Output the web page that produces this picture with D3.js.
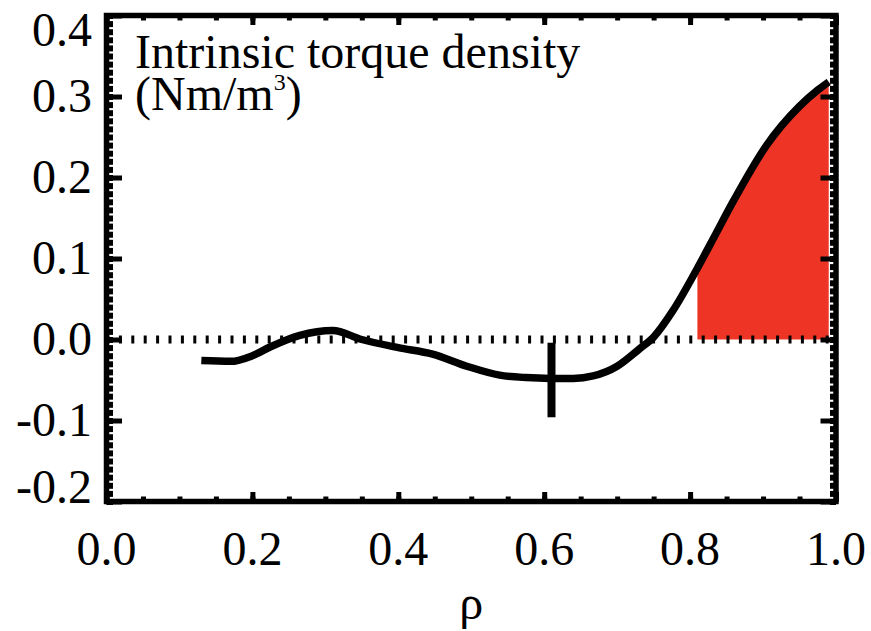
<!DOCTYPE html>
<html>
<head>
<meta charset="utf-8">
<script src="https://cdn.jsdelivr.net/npm/d3@7"></script>
<style>
  body { margin: 0; background: #fff; }
  svg { display: block; }
  text { font-family: "Liberation Serif", "Times New Roman", Times, serif; fill: #000; }
</style>
</head>
<body>
<div id="io"></div>
<script>
// torque density profile
const rhoVals = [0.13, 0.17, 0.20, 0.225, 0.265, 0.31, 0.35, 0.40, 0.447, 0.494, 0.539, 0.575, 0.608, 0.64, 0.667, 0.70, 0.73, 0.75, 0.776, 0.81, 0.835, 0.86, 0.905, 0.95, 0.975, 0.99];
const torqueVals = [-0.026, -0.027, -0.020, -0.009, 0.005, 0.011, 0.000, -0.010, -0.018, -0.033, -0.044, -0.047, -0.048, -0.048, -0.045, -0.033, -0.012, 0.003, 0.035, 0.088, 0.13, 0.172, 0.240, 0.288, 0.308, 0.318];
const fillFrom = 0.81;

// vertical bar
const barRho = [0.61];
const barLo = [-0.096];
const barHi = [-0.004];

const xTickVals = [0.0, 0.2, 0.4, 0.6, 0.8, 1.0];
const yTickVals = [-0.2, -0.1, 0.0, 0.1, 0.2, 0.3, 0.4];
const titleLine1 = 'Intrinsic torque density';
const titleLine2 = '(Nm/m';
const xTitle = 'ρ';

const W = 871, H = 631;
const svg = d3.select('#io').append('svg').attr('width', W).attr('height', H);
svg.append('rect').attr('width', W).attr('height', H).attr('fill', '#fff');

const x = d3.scaleLinear().domain([0, 1]).range([106.5, 836]);
const y = d3.scaleLinear().domain([-0.2, 0.4]).range([501.5, 15.5]);
const fmt = d => d3.format('.1f')(d).replace('−', '-');

const pts = rhoVals.map((r, i) => ({ r: r, v: torqueVals[i] }));

// red shaded part
const area = d3.area()
  .x(d => x(d.r))
  .y0(y(0))
  .y1(d => y(d.v))
  .curve(d3.curveMonotoneX);
svg.append('path')
  .datum(pts.filter(d => d.r >= fillFrom))
  .attr('d', area)
  .attr('fill', '#ee3424');

// dotted zero line
svg.append('line')
  .attr('x1', x(0)).attr('x2', x(1))
  .attr('y1', y(0)).attr('y2', y(0))
  .attr('stroke', '#000')
  .attr('stroke-width', 8)
  .attr('stroke-dasharray', '3,9.4');

const line = d3.line()
  .x(d => x(d.r))
  .y(d => y(d.v))
  .curve(d3.curveMonotoneX);
svg.append('path')
  .datum(pts)
  .attr('d', line)
  .attr('fill', 'none')
  .attr('stroke', '#000')
  .attr('stroke-width', 7.5);

svg.selectAll('.bar')
  .data(barRho)
  .enter()
  .append('line')
  .attr('class', 'bar')
  .attr('x1', d => x(d)).attr('x2', d => x(d))
  .attr('y1', (d, i) => y(barHi[i]))
  .attr('y2', (d, i) => y(barLo[i]))
  .attr('stroke', '#000')
  .attr('stroke-width', 8);

// frame + ticks
function ticks(axis, tx, ty, vals, size, width) {
  const g = svg.append('g')
    .attr('transform', `translate(${tx},${ty})`)
    .call(axis.tickValues(vals).tickSize(size).tickFormat(''));
  g.select('.domain').remove();
  g.selectAll('line').attr('stroke', '#000').attr('stroke-width', width);
}
const yMinor = d3.range(-20, 41).map(i => i / 100);
const xMinor = d3.range(0, 21).map(i => i / 20);

ticks(d3.axisLeft(y), x(0), 0, yMinor, -6.5, 6);
ticks(d3.axisRight(y), x(1), 0, yMinor, -6, 6);
ticks(d3.axisLeft(y), x(0), 0, yTickVals, -15.5, 5);
ticks(d3.axisRight(y), x(1), 0, yTickVals, -15.5, 5);
ticks(d3.axisBottom(x), 0, y(-0.2), xMinor, -5, 5);
ticks(d3.axisTop(x), 0, y(0.4), xMinor, -5, 5);
ticks(d3.axisBottom(x), 0, y(-0.2), xTickVals, -9.5, 5);
ticks(d3.axisTop(x), 0, y(0.4), xTickVals, -9.5, 5);

svg.append('rect')
  .attr('x', x(0)).attr('y', y(0.4))
  .attr('width', x(1) - x(0)).attr('height', y(-0.2) - y(0.4))
  .attr('fill', 'none')
  .attr('stroke', '#000')
  .attr('stroke-width', 5.5);

// tick labels
svg.selectAll('.ylab')
  .data(yTickVals)
  .enter()
  .append('text')
  .attr('class', 'ylab')
  .attr('x', 92)
  .attr('y', d => Math.min(Math.max(y(d) + 15, y(0.4) + 30), y(-0.2) + 1.5))
  .attr('text-anchor', 'end')
  .attr('font-size', 48)
  .text(fmt);

svg.selectAll('.xlab')
  .data(xTickVals)
  .enter()
  .append('text')
  .attr('class', 'xlab')
  .attr('x', d => x(d))
  .attr('y', 565)
  .attr('text-anchor', 'middle')
  .attr('font-size', 48)
  .text(fmt);

svg.append('text')
  .attr('x', (x(0) + x(1)) / 2)
  .attr('y', 619)
  .attr('text-anchor', 'middle')
  .attr('font-size', 48)
  .text(xTitle);

svg.append('text')
  .attr('x', 135).attr('y', 68)
  .attr('font-size', 48)
  .text(titleLine1);

const t2 = svg.append('text')
  .attr('x', 135).attr('y', 110)
  .attr('font-size', 48);
t2.append('tspan').text(titleLine2);
t2.append('tspan').attr('font-size', 24).attr('dy', -20).text('3');
t2.append('tspan').attr('dy', 20).text(')');
</script>
</body>
</html>
